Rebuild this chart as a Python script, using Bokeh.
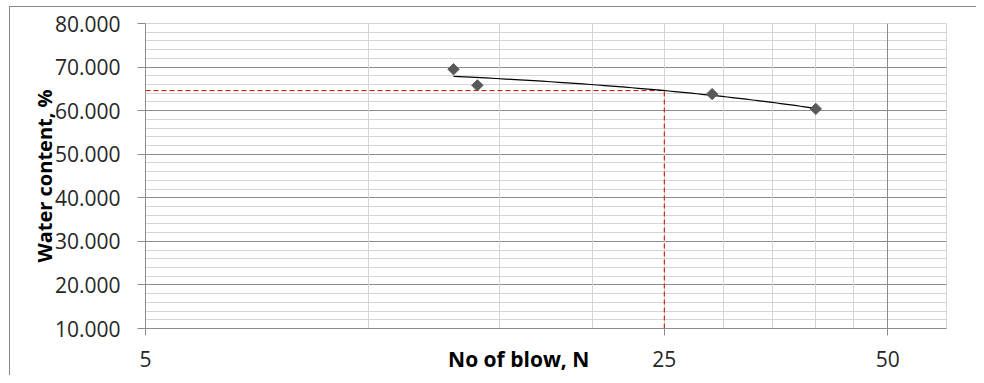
import numpy as np
from bokeh.plotting import figure
from bokeh.models import (FixedTicker, SingleIntervalTicker, Grid, PrintfTickFormatter,
                          Range1d)
from bokeh.embed import file_html
from bokeh.resources import INLINE

# ---- data ----
blows = [13, 14, 29, 40]                 # No of blow, N
water = [69.5, 65.8, 63.8, 60.4]         # Water content, %
x_ticks = [5, 25, 50]
x_minor_grid = [10, 15, 20, 25, 30, 35, 40, 45]
x_major_grid = [50]
y_ticks = [10, 20, 30, 40, 50, 60, 70, 80]
ll_blows = 25                             # liquid-limit blow count

# linear trendline (Excel style) drawn on the log axis
m, c = np.polyfit(blows, water, 1)
tx = np.linspace(min(blows), max(blows), 60)
ty = m * tx + c
ll_water = m * ll_blows + c

FONT = "Open Sans"
GRID_DARK = "#8c8c8c"
GRID_LIGHT = "#d4d4d4"

p = figure(width=976, height=375, x_axis_type="log",
           x_range=Range1d(5, 60), y_range=Range1d(10, 80),
           output_backend="svg", toolbar_location=None,
           min_border_left=145, min_border_right=30,
           min_border_top=23, min_border_bottom=47)
p.border_fill_color = None
p.styles = {
    "background": ("linear-gradient(#878787,#878787) 9px 6px / 1px 100% no-repeat, "
                   "linear-gradient(#878787,#878787) 9px 6px / 100% 1px no-repeat, white")
}
p.outline_line_color = GRID_LIGHT
p.background_fill_color = "white"

# grids
p.xgrid.visible = False
p.ygrid.ticker = SingleIntervalTicker(interval=10, num_minor_ticks=5)
p.ygrid.grid_line_color = GRID_DARK
p.ygrid.minor_grid_line_color = GRID_LIGHT
p.add_layout(Grid(dimension=0, ticker=FixedTicker(ticks=x_minor_grid),
                  grid_line_color=GRID_LIGHT))
p.add_layout(Grid(dimension=0, ticker=FixedTicker(ticks=x_major_grid),
                  grid_line_color=GRID_DARK))

# axes
xa = p.xaxis[0]
xa.ticker = FixedTicker(ticks=x_ticks)
xa.axis_line_color = GRID_DARK
xa.major_tick_line_color = GRID_DARK
xa.major_tick_out = 7
xa.major_tick_in = 0
xa.minor_tick_line_color = None
xa.major_label_text_font = FONT
xa.major_label_text_font_size = "21px"
xa.major_label_text_color = "#262626"
xa.major_label_standoff = 15
# title sits left of centre in the reference: pad with no-break spaces
xa.axis_label = "No of blow, N" + "\u00a0" * 10
xa.axis_label_text_font = FONT
xa.axis_label_text_font_size = "21px"
xa.axis_label_text_font_style = "bold"
xa.axis_label_text_color = "#000000"
xa.axis_label_text_line_height = 0.6
xa.axis_label_standoff = -25

ya = p.yaxis[0]
ya.ticker = FixedTicker(ticks=y_ticks)
ya.formatter = PrintfTickFormatter(format="%.3f")
ya.axis_line_color = GRID_DARK
ya.major_tick_line_color = GRID_DARK
ya.major_tick_out = 8
ya.major_tick_in = 0
ya.minor_tick_line_color = None
ya.major_label_text_font = FONT
ya.major_label_text_font_size = "21px"
ya.major_label_text_color = "#262626"
ya.major_label_standoff = 17
ya.axis_label = "Water content, %"
ya.axis_label_text_font = FONT
ya.axis_label_text_font_size = "20px"
ya.axis_label_text_font_style = "bold"
ya.axis_label_text_color = "#000000"
ya.axis_label_standoff = -6

# liquid-limit guide lines
p.line([5, ll_blows], [ll_water, ll_water], line_color="#d00000",
       line_dash="5 3", line_width=1)
p.line([ll_blows, ll_blows], [10, ll_water], line_color="#d00000",
       line_dash="5 3", line_width=1)

# trendline and points
p.line(tx, ty, line_color="black", line_width=1.2)
p.scatter(blows, water, marker="square", angle=np.pi / 4, size=8,
          fill_color="#595959", line_color="#595959")

open("out.html", "w").write(file_html(p, INLINE))
